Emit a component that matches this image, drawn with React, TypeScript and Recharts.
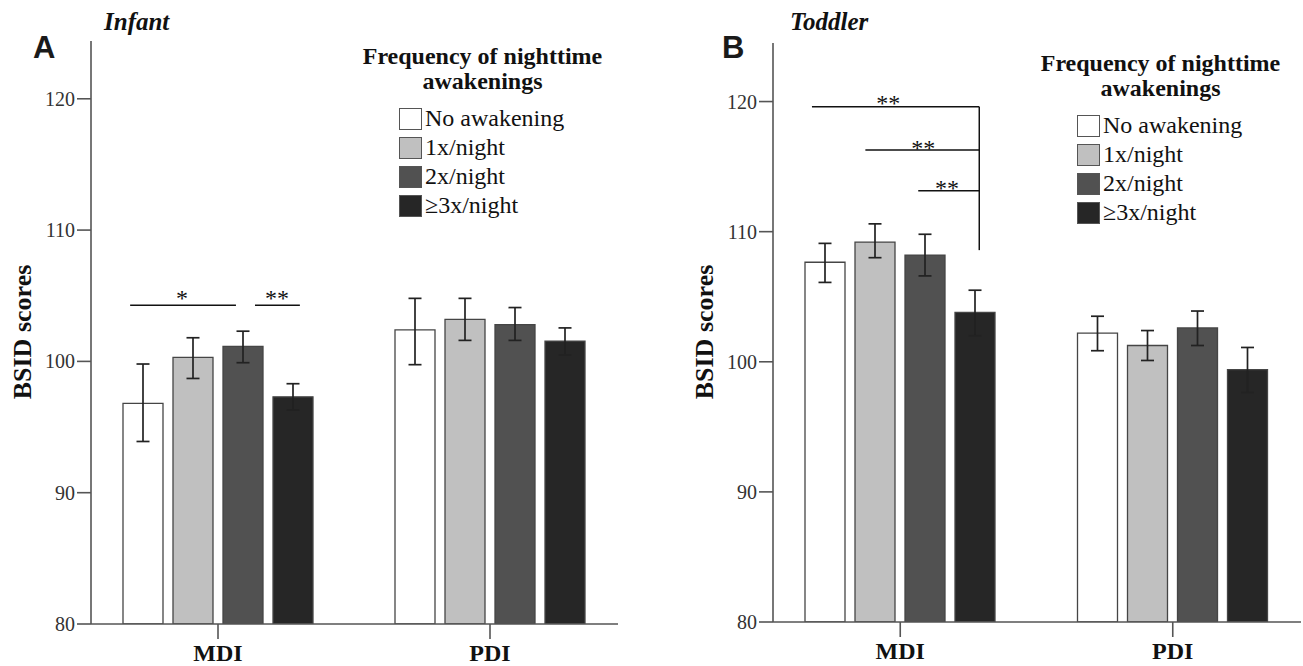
import { BarChart, Bar, XAxis, YAxis, ErrorBar, ReferenceLine, ReferenceDot, Legend } from "recharts";

const SERIF = "'Liberation Serif', 'Times New Roman', serif";
const CATEGORIES = ["MDI", "PDI"];
const GROUPS = ["No awakening", "1x/night", "2x/night", "≥3x/night"];
const FILLS = ["#ffffff", "#c0c0c0", "#515151", "#262626"];
const Y_TICKS = [80, 90, 100, 110, 120];

// rows = awakening group, columns = MDI, PDI
const INFANT_MEAN = [[96.8, 102.4], [100.3, 103.2], [101.15, 102.8], [97.3, 101.55]];
const INFANT_LOW = [[93.9, 99.75], [98.7, 101.6], [99.9, 101.6], [96.3, 100.5]];
const INFANT_HIGH = [[99.8, 104.8], [101.8, 104.8], [102.3, 104.1], [98.3, 102.55]];

const TODDLER_MEAN = [[107.65, 102.2], [109.2, 101.25], [108.2, 102.6], [103.8, 99.4]];
const TODDLER_LOW = [[106.1, 100.85], [108.0, 100.1], [106.6, 101.25], [102.0, 97.65]];
const TODDLER_HIGH = [[109.1, 103.5], [110.6, 102.4], [109.8, 103.9], [105.5, 101.1]];

// significance brackets, x in category units (0..2), y in score units
const INFANT_SIG_X1 = [0.177, 0.636];
const INFANT_SIG_X2 = [0.566, 0.801];
const INFANT_SIG_Y = [104.27, 104.27];
const INFANT_STAR_X = [0.368, 0.717];
const INFANT_STAR_Y = [105.17, 105.17];
const INFANT_STARS = ["*", "**"];

const TODDLER_SIG_X1 = [0.176, 0.372, 0.566];
const TODDLER_SIG_X2 = [0.79, 0.79, 0.79];
const TODDLER_SIG_Y = [119.6, 116.27, 113.14];
const TODDLER_DROP = [0.79, 119.6, 108.58];
const TODDLER_STAR_X = [0.456, 0.584, 0.672];
const TODDLER_STAR_Y = [120.22, 116.73, 113.65];
const TODDLER_STARS = ["**", "**", "**"];

function buildRows(mean: number[][], low: number[][], high: number[][]) {
  return CATEGORIES.map((cat, c) => {
    const row: Record<string, any> = { cat, pos: c + 0.5 };
    GROUPS.forEach((_, g) => {
      row[`g${g}`] = mean[g][c];
      row[`e${g}`] = [mean[g][c] - low[g][c], high[g][c] - mean[g][c]];
    });
    return row;
  });
}

function LegendBox({ payload }: any) {
  const items = [...(payload || [])].sort(
    (a: any, b: any) => GROUPS.indexOf(a.value) - GROUPS.indexOf(b.value),
  );
  return (
    <div style={{ fontFamily: SERIF, color: "#111" }}>
      <div style={{ fontWeight: "bold", fontSize: 24, lineHeight: "25px", textAlign: "center" }}>
        Frequency of nighttime
        <br />
        awakenings
      </div>
      <div style={{ marginTop: 10, marginLeft: 59 }}>
        {items.map((p: any) => {
          const i = GROUPS.indexOf(p.value);
          return (
            <div key={p.value} style={{ display: "flex", alignItems: "flex-start", height: 29 }}>
              <span
                style={{
                  display: "inline-block",
                  boxSizing: "border-box",
                  width: 23,
                  height: 22,
                  marginTop: 4,
                  marginRight: 3,
                  background: FILLS[i],
                  border: "1.5px solid #555",
                }}
              />
              <span style={{ fontSize: 24, lineHeight: "29px", whiteSpace: "nowrap" }}>{p.value}</span>
            </div>
          );
        })}
      </div>
    </div>
  );
}

const starShape = (text: string) => (p: any) => (
  <text x={p.cx} y={p.cy + 12} textAnchor="middle" fontFamily={SERIF} fontSize={24} fill="#111">
    {text}
  </text>
);

interface PanelProps {
  left: number;
  width: number;
  letter: string;
  letterX: number;
  title: string;
  titleX: number;
  labelX: number;
  margin: { top: number; right: number; bottom: number; left: number };
  domainMax: number;
  legendLeft: number;
  legendTop: number;
  mean: number[][];
  low: number[][];
  high: number[][];
  sigX1: number[];
  sigX2: number[];
  sigY: number[];
  drop?: number[];
  starX: number[];
  starY: number[];
  stars: string[];
}

function Panel(props: PanelProps) {
  const rows = buildRows(props.mean, props.low, props.high);
  const axisStroke = "#555";
  const pad = { left: -9, right: -8 };
  return (
    <div style={{ position: "absolute", left: props.left, top: 0, width: props.width, height: 666 }}>
      <BarChart width={props.width} height={666} data={rows} margin={props.margin} barSize={40} barGap={10}>
        <XAxis
          dataKey="cat"
          interval={0}
          padding={pad}
          height={40}
          tickSize={15}
          tickMargin={5}
          axisLine={{ stroke: axisStroke, strokeWidth: 1.6 }}
          tickLine={{ stroke: axisStroke, strokeWidth: 1.6 }}
          tick={{ fontFamily: SERIF, fontSize: 24, fontWeight: "bold", fill: "#111" }}
        />
        <XAxis
          xAxisId="top"
          dataKey="cat"
          orientation="top"
          height={0}
          tick={false}
          tickLine={false}
          axisLine={{ stroke: axisStroke, strokeWidth: 1.6 }}
        />
        <XAxis
          xAxisId="pos"
          dataKey="pos"
          type="number"
          domain={[0, 2]}
          padding={pad}
          allowDataOverflow
          hide
        />
        <YAxis
          domain={[80, props.domainMax]}
          ticks={Y_TICKS}
          allowDataOverflow
          width={80}
          tickSize={14}
          tickMargin={2}
          axisLine={{ stroke: axisStroke, strokeWidth: 1.6 }}
          tickLine={{ stroke: axisStroke, strokeWidth: 1.6 }}
          tick={{ fontFamily: SERIF, fontSize: 20, fill: "#333" }}
        />
        <YAxis
          yAxisId="r"
          orientation="right"
          domain={[80, props.domainMax]}
          width={0}
          tick={false}
          tickLine={false}
          axisLine={{ stroke: axisStroke, strokeWidth: 1.6 }}
        />
        <Legend
          layout="horizontal"
          verticalAlign="middle"
          align="center"
          wrapperStyle={{ left: props.legendLeft, top: props.legendTop, width: 285 }}
          content={<LegendBox />}
        />
        {GROUPS.map((g, i) => (
          <Bar key={g} dataKey={`g${i}`} name={g} fill={FILLS[i]} stroke="#454545" strokeWidth={1.3} isAnimationActive={false}>
            <ErrorBar dataKey={`e${i}`} width={6.5} stroke="#222" strokeWidth={1.7} direction="y" />
          </Bar>
        ))}
        {props.sigY.map((y, i) => (
          <ReferenceLine
            key={`s${i}`}
            xAxisId="pos"
            segment={[{ x: props.sigX1[i], y }, { x: props.sigX2[i], y }]}
            stroke="#111"
            strokeWidth={1.5}
            ifOverflow="visible"
          />
        ))}
        {props.drop && (
          <ReferenceLine
            xAxisId="pos"
            segment={[{ x: props.drop[0], y: props.drop[1] }, { x: props.drop[0], y: props.drop[2] }]}
            stroke="#111"
            strokeWidth={1.5}
            ifOverflow="visible"
          />
        )}
        {props.stars.map((s, i) => (
          <ReferenceDot
            key={`t${i}`}
            xAxisId="pos"
            x={props.starX[i]}
            y={props.starY[i]}
            r={1}
            ifOverflow="visible"
            shape={starShape(s)}
          />
        ))}
      </BarChart>
      <svg
        width={props.width}
        height={666}
        style={{ position: "absolute", left: 0, top: 0, pointerEvents: "none" }}
      >
        <text
          x={props.letterX}
          y={58}
          fontFamily="'Liberation Sans Narrow', 'Liberation Sans', Arial, sans-serif"
          fontWeight="bold"
          fontSize={31}
          fill="#1a1a1a"
        >
          {props.letter}
        </text>
        <text x={props.titleX} y={30} fontFamily={SERIF} fontWeight="bold" fontStyle="italic" fontSize={25} fill="#111">
          {props.title}
        </text>
        <text
          x={props.labelX}
          y={332}
          transform={`rotate(-90 ${props.labelX} 332)`}
          textAnchor="middle"
          fontFamily={SERIF}
          fontWeight="bold"
          fontSize={26}
          fill="#111"
        >
          BSID scores
        </text>
      </svg>
    </div>
  );
}

export default function App() {
  return (
    <div style={{ position: "absolute", left: 0, top: 0, width: 1303, height: 666, background: "#fff" }}>
      <Panel
        left={0}
        width={651}
        letter="A"
        letterX={33}
        title="Infant"
        titleX={104}
        labelX={31}
        margin={{ top: 41, right: 33, bottom: 2, left: 11 }}
        domainMax={124.4}
        legendLeft={340}
        legendTop={44}
        mean={INFANT_MEAN}
        low={INFANT_LOW}
        high={INFANT_HIGH}
        sigX1={INFANT_SIG_X1}
        sigX2={INFANT_SIG_X2}
        sigY={INFANT_SIG_Y}
        starX={INFANT_STAR_X}
        starY={INFANT_STAR_Y}
        stars={INFANT_STARS}
      />
      <Panel
        left={651}
        width={652}
        letter="B"
        letterX={71}
        title="Toddler"
        titleX={139}
        labelX={62}
        margin={{ top: 43, right: 2, bottom: 4, left: 42 }}
        domainMax={124.5}
        legendLeft={367}
        legendTop={51}
        mean={TODDLER_MEAN}
        low={TODDLER_LOW}
        high={TODDLER_HIGH}
        sigX1={TODDLER_SIG_X1}
        sigX2={TODDLER_SIG_X2}
        sigY={TODDLER_SIG_Y}
        drop={TODDLER_DROP}
        starX={TODDLER_STAR_X}
        starY={TODDLER_STAR_Y}
        stars={TODDLER_STARS}
      />
    </div>
  );
}
